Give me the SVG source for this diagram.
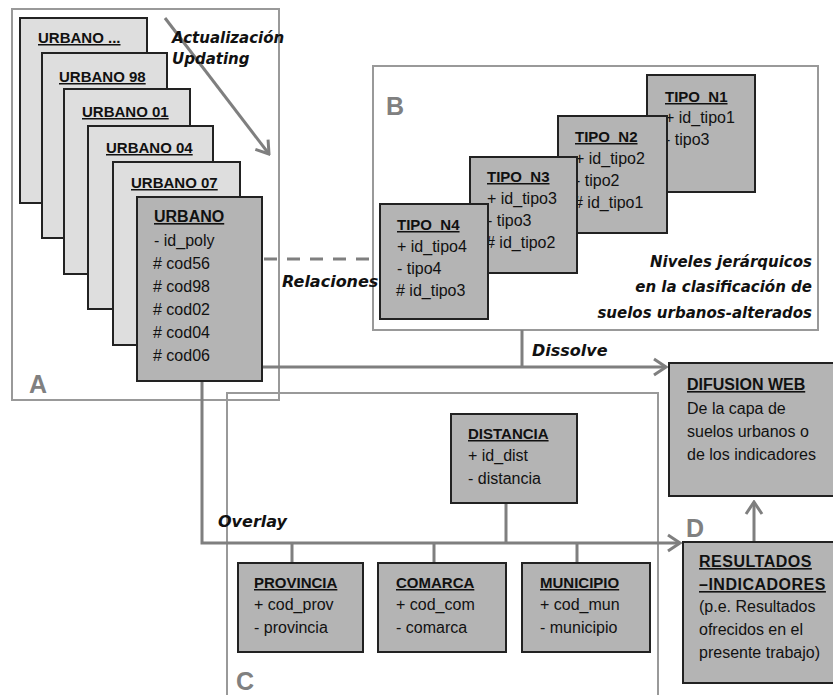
<svg xmlns="http://www.w3.org/2000/svg" width="833" height="695" viewBox="0 0 833 695">
<defs>
<style>
.frame{fill:none;stroke:#999;stroke-width:2}
.light{fill:#dedede;stroke:#222;stroke-width:2}
.dark{fill:#b4b4b4;stroke:#222;stroke-width:2}
.conn{fill:none;stroke:#7f7f7f;stroke-width:3}
.title{font-family:"Liberation Sans",Arial,sans-serif;font-weight:bold;font-size:15px;text-decoration:underline;fill:#111}
.attr{font-family:"Liberation Sans",Arial,sans-serif;font-size:16px;fill:#111}
.lab{font-family:"DejaVu Sans",Verdana,sans-serif;font-weight:bold;font-style:italic;font-size:16px;fill:#111}
.big{font-family:"Liberation Sans",Arial,sans-serif;font-weight:bold;font-size:25px;fill:#808080}
</style>
<marker id="arr" viewBox="-14 -10 16 20" markerWidth="16" markerHeight="20" refX="0" refY="0" orient="auto" markerUnits="userSpaceOnUse">
<path d="M-12,-8 L0,0 L-12,8" fill="none" stroke="#7f7f7f" stroke-width="3"/>
</marker>
</defs>
<rect width="833" height="695" fill="#fff"/>

<g id="frames">
<rect class="frame" x="12" y="9" width="267" height="391"/>
<rect class="frame" x="373" y="66" width="445" height="264"/>
<rect class="frame" x="227" y="393" width="431" height="320"/>
<text class="big" x="29" y="393">A</text>
<text class="big" x="386" y="115">B</text>
<text class="big" x="236" y="690">C</text>
<text class="big" x="686" y="537">D</text>
</g>

<g id="connectors">
<line class="conn" x1="165" y1="18" x2="269" y2="154" marker-end="url(#arr)"/>
<line x1="264" y1="259" x2="372" y2="259" stroke="#7f7f7f" stroke-width="3" stroke-dasharray="13,10"/>
<polyline class="conn" points="262,367 666,367" marker-end="url(#arr)"/>
<line class="conn" x1="522" y1="330" x2="522" y2="367"/>
<polyline class="conn" points="202,381 202,543 680,543" marker-end="url(#arr)"/>
<line class="conn" x1="506" y1="503" x2="506" y2="543"/>
<line class="conn" x1="292" y1="543" x2="292" y2="563"/>
<line class="conn" x1="434" y1="543" x2="434" y2="563"/>
<line class="conn" x1="577" y1="543" x2="577" y2="563"/>
<line class="conn" x1="754" y1="542" x2="754" y2="502" marker-end="url(#arr)"/>
</g>

<g id="urbano_dots"><rect class="light" x="20" y="18" width="127" height="185"/><text class="title" x="38" y="43">URBANO ...</text></g>
<g id="urbano_98"><rect class="light" x="42" y="53" width="125" height="185"/><text class="title" x="59" y="82">URBANO 98</text></g>
<g id="urbano_01"><rect class="light" x="64" y="89" width="126" height="185"/><text class="title" x="82" y="117">URBANO 01</text></g>
<g id="urbano_04"><rect class="light" x="88" y="126" width="125" height="183"/><text class="title" x="106" y="153">URBANO 04</text></g>
<g id="urbano_07"><rect class="light" x="113" y="162" width="127" height="183"/><text class="title" x="131" y="188">URBANO 07</text></g>
<g id="urbano">
<rect class="dark" x="137" y="197" width="125" height="184"/>
<text class="title" x="154" y="222" style="font-size:16px">URBANO</text>
<text class="attr" x="154" y="246">- id_poly</text>
<text class="attr" x="153" y="269"># cod56</text>
<text class="attr" x="153" y="292"># cod98</text>
<text class="attr" x="153" y="315"># cod02</text>
<text class="attr" x="153" y="338"># cod04</text>
<text class="attr" x="153" y="361"># cod06</text>
</g>

<g id="tipo_n1">
<rect class="dark" x="647" y="75" width="108" height="117"/>
<text class="title" x="665" y="102">TIPO_N1</text>
<text class="attr" x="665" y="123">+ id_tipo1</text>
<text class="attr" x="665" y="145">- tipo3</text>
</g>
<g id="tipo_n2">
<rect class="dark" x="558" y="116" width="109" height="117"/>
<text class="title" x="575" y="142">TIPO_N2</text>
<text class="attr" x="575" y="164">+ id_tipo2</text>
<text class="attr" x="575" y="186">- tipo2</text>
<text class="attr" x="574" y="208"># id_tipo1</text>
</g>
<g id="tipo_n3">
<rect class="dark" x="470" y="157" width="107" height="116"/>
<text class="title" x="487" y="182">TIPO_N3</text>
<text class="attr" x="487" y="204">+ id_tipo3</text>
<text class="attr" x="487" y="226">- tipo3</text>
<text class="attr" x="486" y="248"># id_tipo2</text>
</g>
<g id="tipo_n4">
<rect class="dark" x="380" y="204" width="108" height="115"/>
<text class="title" x="397" y="230">TIPO_N4</text>
<text class="attr" x="397" y="252">+ id_tipo4</text>
<text class="attr" x="397" y="274">- tipo4</text>
<text class="attr" x="396" y="296"># id_tipo3</text>
</g>

<g id="distancia">
<rect class="dark" x="451" y="414" width="126" height="89"/>
<text class="title" x="468" y="439">DISTANCIA</text>
<text class="attr" x="468" y="461">+ id_dist</text>
<text class="attr" x="468" y="484">- distancia</text>
</g>
<g id="provincia">
<rect class="dark" x="238" y="563" width="125" height="89"/>
<text class="title" x="254" y="588">PROVINCIA</text>
<text class="attr" x="254" y="610">+ cod_prov</text>
<text class="attr" x="254" y="633">- provincia</text>
</g>
<g id="comarca">
<rect class="dark" x="378" y="563" width="128" height="89"/>
<text class="title" x="396" y="588">COMARCA</text>
<text class="attr" x="396" y="610">+ cod_com</text>
<text class="attr" x="396" y="633">- comarca</text>
</g>
<g id="municipio">
<rect class="dark" x="522" y="563" width="128" height="89"/>
<text class="title" x="540" y="588">MUNICIPIO</text>
<text class="attr" x="540" y="610">+ cod_mun</text>
<text class="attr" x="540" y="633">- municipio</text>
</g>

<g id="difusion_web">
<rect class="dark" x="669" y="363" width="180" height="133"/>
<text class="title" x="687" y="390" style="font-size:16px">DIFUSION WEB</text>
<text class="attr" x="687" y="414">De la capa de</text>
<text class="attr" x="687" y="437">suelos urbanos o</text>
<text class="attr" x="687" y="460">de los indicadores</text>
</g>
<g id="resultados">
<rect class="dark" x="683" y="542" width="170" height="141"/>
<text class="title" x="699" y="567" style="font-size:16px;letter-spacing:0.5px">RESULTADOS</text>
<text class="title" x="699" y="590" style="font-size:16px;letter-spacing:0.5px">–INDICADORES</text>
<text class="attr" x="699" y="612">(p.e. Resultados</text>
<text class="attr" x="699" y="635">ofrecidos en el</text>
<text class="attr" x="699" y="658">presente trabajo)</text>
</g>

<g id="labels">
<text class="lab" x="172" y="43" style="font-size:15px">Actualización</text>
<text class="lab" x="172" y="64" style="font-size:15px">Updating</text>
<text class="lab" x="282" y="287">Relaciones</text>
<text class="lab" x="532" y="356">Dissolve</text>
<text class="lab" x="218" y="527">Overlay</text>
<text class="lab" x="812" y="267" text-anchor="end" style="font-size:15px">Niveles jerárquicos</text>
<text class="lab" x="812" y="292" text-anchor="end" style="font-size:15px">en la clasificación de</text>
<text class="lab" x="812" y="318" text-anchor="end" style="font-size:15px">suelos urbanos-alterados</text>
</g>
</svg>
